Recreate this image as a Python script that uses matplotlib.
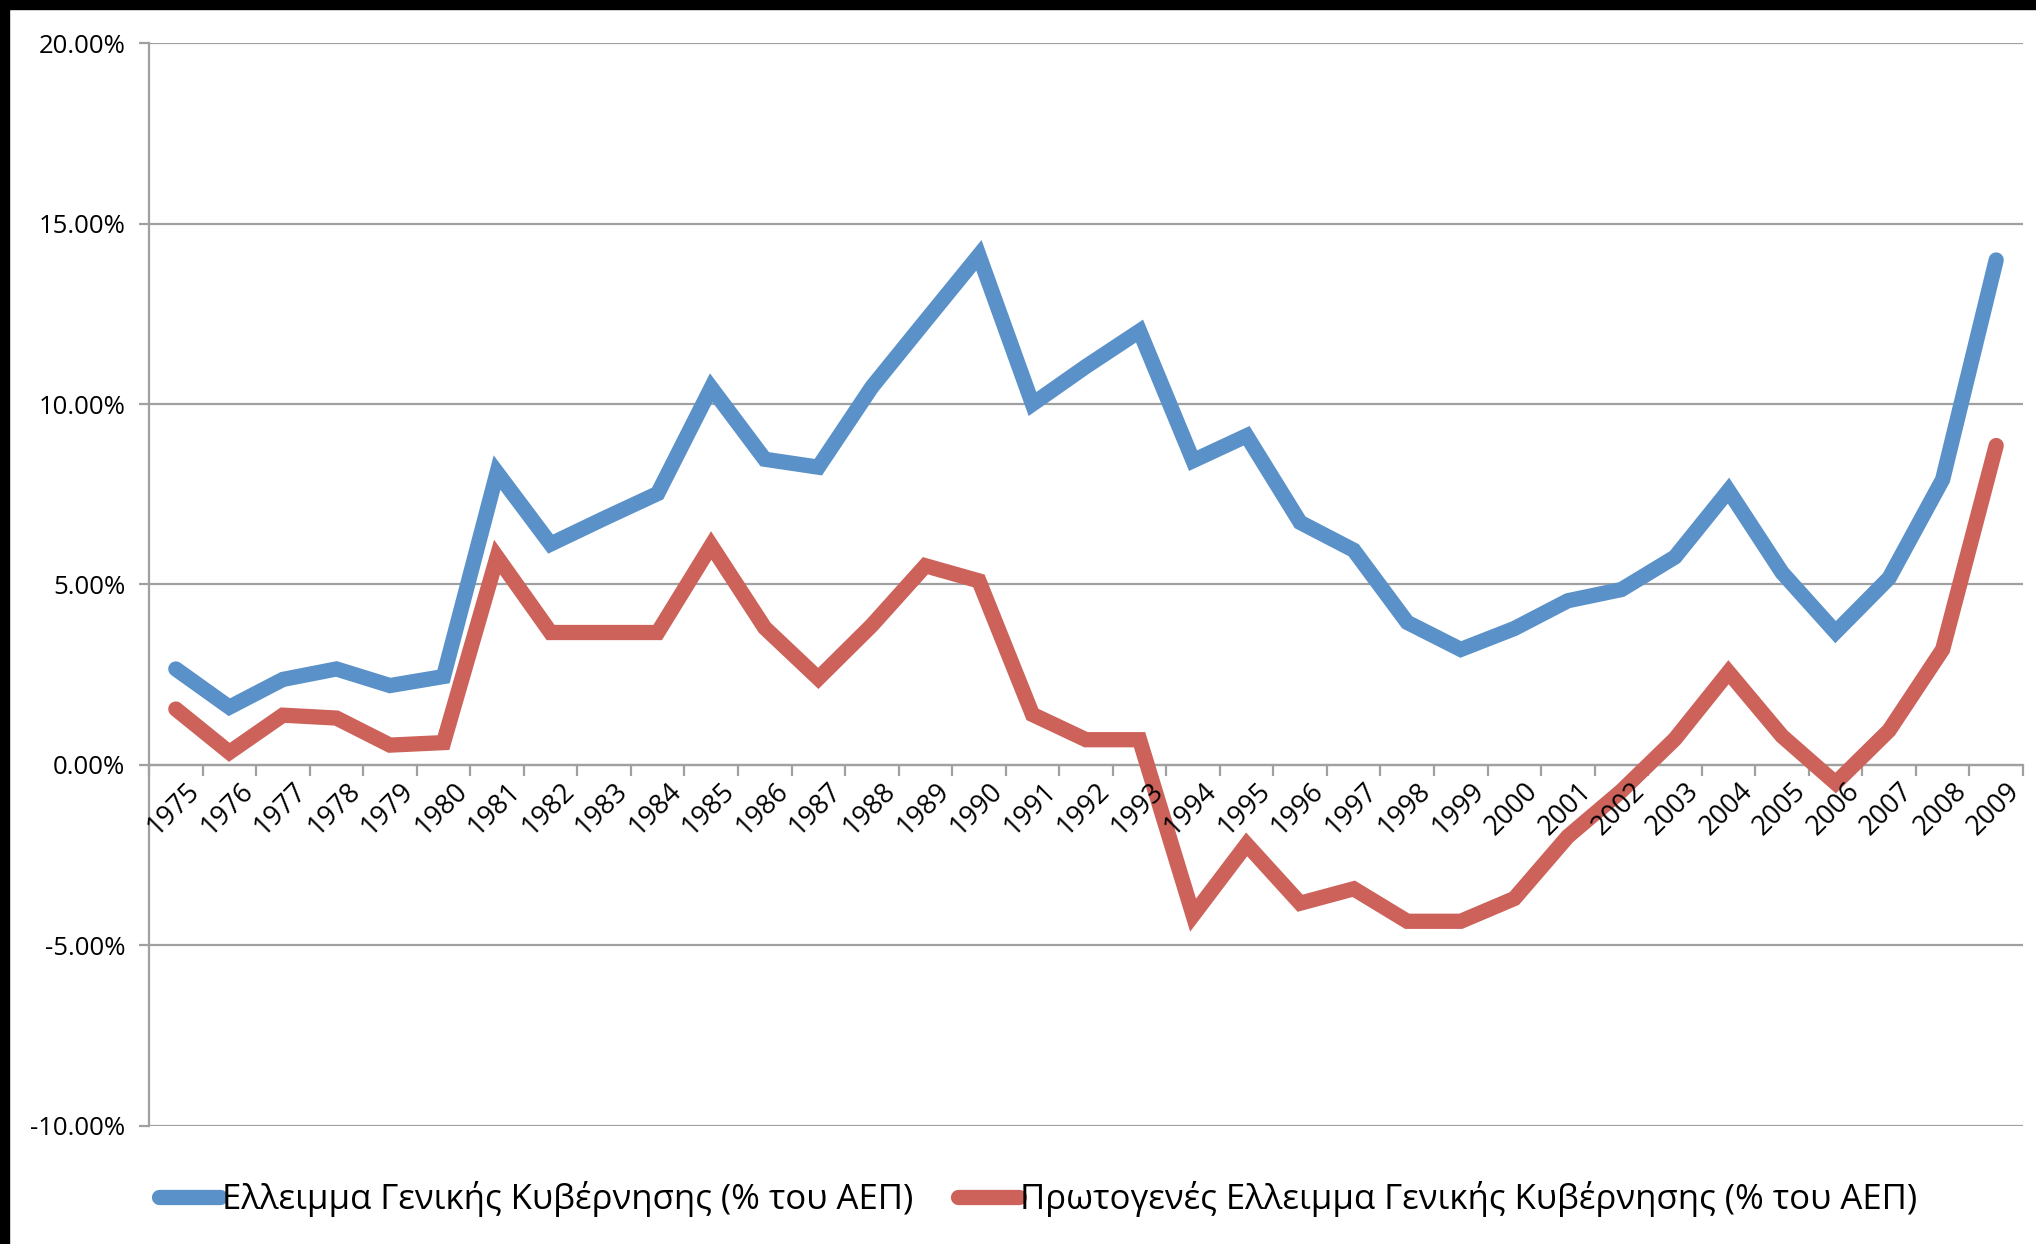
import numpy as np
import matplotlib
matplotlib.use("Agg")
import matplotlib.pyplot as plt
from matplotlib.patches import Rectangle

plt.rcParams['font.family'] = ['Open Sans', 'DejaVu Sans']

years = list(range(1975, 2010))

# General government deficit (% of GDP)
deficit = [2.66, 1.60, 2.37, 2.66, 2.20, 2.45, 8.10, 6.12, 6.83, 7.52,
           10.45, 8.47, 8.25, 10.47, 12.30, 14.12, 10.00, 11.04, 12.02, 8.43,
           9.12, 6.72, 5.95, 3.95, 3.20, 3.78, 4.55, 4.86, 5.76, 7.60,
           5.33, 3.68, 5.18, 7.91, 13.99]

# Primary deficit (% of GDP)
primary = [1.55, 0.35, 1.38, 1.30, 0.55, 0.62, 5.76, 3.67, 3.67, 3.67,
           6.08, 3.80, 2.40, 3.87, 5.52, 5.10, 1.40, 0.70, 0.70, -4.16,
           -2.20, -3.83, -3.43, -4.33, -4.33, -3.70, -1.98, -0.72, 0.72, 2.57,
           0.80, -0.50, 0.96, 3.20, 8.85]

labels = ["Ελλειμμα Γενικής Κυβέρνησης (% του ΑΕΠ)",
          "Πρωτογενές Ελλειμμα Γενικής Κυβέρνησης (% του ΑΕΠ)"]

blue = "#5B91C9"
red = "#CC625A"
grid_c = "#A0A0A0"

fig = plt.figure(figsize=(20.36, 12.44), dpi=100)
ax = fig.add_axes([0.0732, 0.0949, 0.9936 - 0.0732, 0.9654 - 0.0949])

x = np.arange(len(years))
ax.plot(x, deficit, color=blue, lw=11, solid_capstyle='round',
        solid_joinstyle='miter', label=labels[0], zorder=3)
ax.plot(x, primary, color=red, lw=11, solid_capstyle='round',
        solid_joinstyle='miter', label=labels[1], zorder=3)

ax.set_xlim(-0.5, len(years) - 0.5)
ax.set_ylim(-10, 20)

yt = np.arange(-10, 21, 5)
ax.set_yticks(yt)
ax.set_yticklabels([f"{v:.2f}%" for v in yt])
ax.yaxis.grid(True, color=grid_c, lw=1.6)
ax.set_axisbelow(True)

# category axis at zero, ticks between categories
ax.spines['bottom'].set_position(('data', 0))
ax.set_xticks(np.arange(-0.5, len(years), 1.0))
ax.set_xticklabels([])
ax.tick_params(axis='x', direction='out', length=8, width=1.6, color=grid_c)
for i, yr in enumerate(years):
    ax.annotate(str(yr), xy=(i, 0), xytext=(7, -9), textcoords='offset points',
                rotation=45, ha='right', va='top', rotation_mode='anchor',
                fontsize=19.5, color='black')

for s in ['top', 'right']:
    ax.spines[s].set_visible(False)
for s in ['left', 'bottom']:
    ax.spines[s].set_color(grid_c)
    ax.spines[s].set_linewidth(1.6)
ax.tick_params(axis='y', direction='out', length=7, width=1.6, color=grid_c,
               labelsize=18.5, pad=10)

leg = fig.legend(loc='center', bbox_to_anchor=(0.51, 1 - 1199 / 1244), ncol=2,
                 frameon=False, fontsize=25, handlelength=1.75,
                 handletextpad=0.05, columnspacing=1.3)

# black frame edges from the screenshot
fig.patches.append(Rectangle((0, 1 - 9 / 1244), 1, 9 / 1244, transform=fig.transFigure,
                             color='black', zorder=10))
fig.patches.append(Rectangle((0, 0), 9 / 2036, 1, transform=fig.transFigure,
                             color='black', zorder=10))

fig.savefig("out.png", dpi=100)
